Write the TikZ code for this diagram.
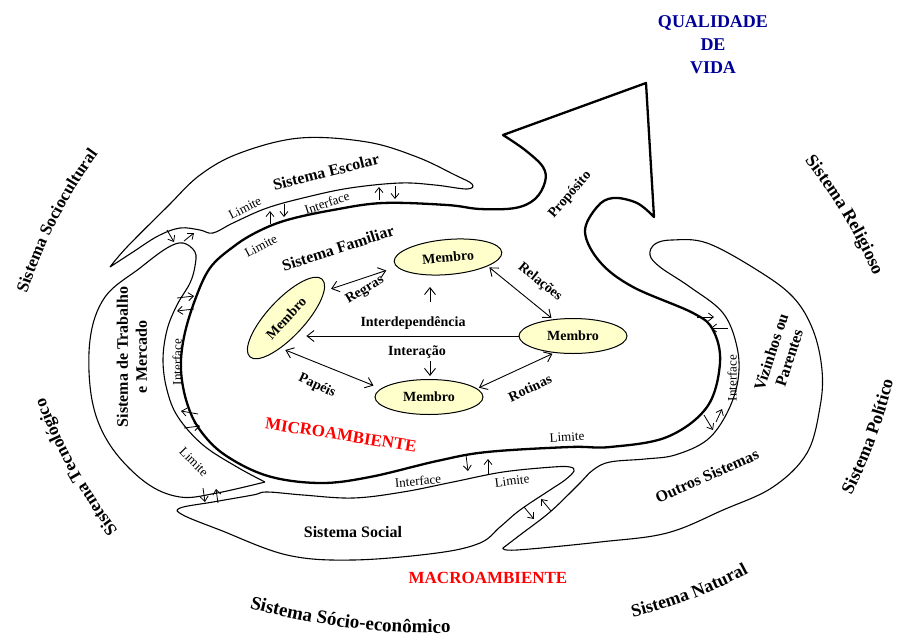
\documentclass[tikz,border=0pt]{standalone}
\usepackage{fontspec}
\setmainfont{Liberation Serif}
\usetikzlibrary{shapes.geometric}
\usetikzlibrary{arrows.meta}
\usetikzlibrary{decorations.text}
\definecolor{membrofill}{RGB}{255,255,204}
\definecolor{vidablue}{RGB}{0,0,153}
\newcommand{\externofont}{\fontsize{18}{20}\selectfont\bfseries}
\tikzset{
membro/.style={ % Sets the properties for each member
ellipse, draw, line width=1pt, fill=membrofill,
inner sep=0pt, minimum width=108pt, minimum height=35pt,
font=\fontsize{14}{16}\selectfont\bfseries},
rel/.style={ % arrows between the members
line width=0.9pt, >={Straight Barb[length=7pt,width=11pt]}},
iarrow/.style={ % small arrows across an interface
->, line width=0.8pt, >={Straight Barb[length=5pt,width=8pt]}},
fronteira/.style={line width=2.3pt, line join=round}, % microambiente limit
contorno/.style={line width=1.1pt}, % other systems
rotulo/.style={font=\fontsize{14}{16}\selectfont\bfseries},
sistema/.style={font=\fontsize{16}{19}\selectfont\bfseries, align=center},
limite/.style={font=\fontsize{13}{15}\selectfont},
ambiente/.style={font=\fontsize{17}{19}\selectfont\bfseries, text=red},
externo/.style={decorate, decoration={text along path, text align=center}}}

\begin{document}
\begin{tikzpicture}[x=1pt, y=-1pt]
\useasboundingbox (0,0) rectangle (898,641);

% microambiente limit and the arrow of purpose
\draw[fronteira] (646,83) -- (503,135) -- plot[smooth, tension=0.6] coordinates {(503,135) (525,150) (543,167) (545,182) (535,199) (515,208) (480,209) (447,205) (383,203) (333,210) (287,220) (257,232) (233,247) (210,268) (195,300) (184,337) (181,370) (187,403) (200,430) (225,455) (268,476) (320,483) (370,477) (437,461) (487,452) (570,447) (610,447) (667,437) (707,407) (720,363) (713,330) (693,313) (633,287) (600,262) (585,232) (597,207) (613,198) (637,203) (654,217)} -- cycle;

% surrounding systems
\draw[contorno] plot[smooth, tension=0.6] coordinates {(110,267) (127,247) (167,207) (200,175) (240,153) (300,138) (367,142) (417,157) (455,175) (472,184) (467,189) (435,185) (400,183) (350,188) (307,197) (267,208) (233,223) (213,233) (200,230) (180,228) (158,236) (133,252) (110,267)};
\draw[contorno] plot[smooth, tension=0.6] coordinates {(265,482) (237,467) (203,445) (178,417) (167,390) (163,360) (167,330) (177,305) (190,283) (195,266) (195,252) (183,243) (167,248) (140,268) (105,297) (90,340) (92,400) (110,445) (145,482) (180,497) (217,493) (265,482)};
\draw[contorno] plot[smooth cycle, tension=0.6] coordinates {(180,508) (213,502) (253,495) (267,492) (303,495) (353,498) (403,492) (453,482) (503,472) (553,467) (570,467) (574,471) (565,480) (550,490) (520,510) (500,527) (480,543) (437,553) (353,560) (287,555) (220,530) (183,515)};
\draw[contorno] plot[smooth, tension=0.6] coordinates {(503,548) (520,535) (550,512) (578,485) (593,470) (610,462) (645,459) (675,455) (707,440) (727,413) (738,380) (737,347) (723,313) (690,287) (660,267) (650,255) (655,244) (672,240) (707,243) (757,270) (793,297) (813,330) (822,370) (820,407) (807,453) (773,487) (723,510) (667,533) (600,542) (517,550) (503,548)};

% exchanges across the interfaces
\draw[iarrow] (270,224) -- (270,211);
\draw[iarrow] (284,204) -- (284,217);
\draw[iarrow] (379,200) -- (379,187);
\draw[iarrow] (395,186) -- (395,199);
\draw[iarrow] (167,230) -- (174,242);
\draw[iarrow] (184,241) -- (194,233);
\draw[iarrow] (177,298) -- (194,296);
\draw[iarrow] (194,309) -- (177,311);
\draw[iarrow] (198,414) -- (181,411);
\draw[iarrow] (184,428) -- (200,426);
\draw[iarrow] (203,488) -- (205,502);
\draw[iarrow] (218,503) -- (216,489);
\draw[iarrow] (466,455) -- (468,471);
\draw[iarrow] (488,474) -- (488,459);
\draw[iarrow] (524,507) -- (534,519);
\draw[iarrow] (551,511) -- (541,499);
\draw[iarrow] (697,317) -- (714,317);
\draw[iarrow] (728,328) -- (711,328);
\draw[iarrow] (704,415) -- (713,430);
\draw[iarrow] (716,422) -- (722,409);

% family members
\node[membro, rotate=5] (mT) at (448,257) {Membro};
\node[membro, rotate=47, minimum width=106pt, minimum height=37pt] (mL) at (286,318) {Membro};
\node[membro] (mR) at (573,336) {Membro};
\node[membro] (mB) at (429,397) {Membro};
\coordinate (idp) at (430,302);
\coordinate (itr) at (430,361);

\draw[rel, <->, shorten <=7pt, shorten >=11pt] (mL.-12) -- (mT.186);
\draw[rel, <->, shorten <=2pt, shorten >=2pt] (mT.-18) -- (mR.140);
\draw[rel, ->, shorten >=6pt] (mR.west) -- (mR.west -| mL.-88);
\draw[rel, <->, shorten <=5pt, shorten >=8pt] (mL.-147) -- (mB.170);
\draw[rel, <->, shorten <=2pt, shorten >=2pt] (mB.10) -- (mR.-138);
\draw[rel, ->, shorten >=12pt] (idp) -- (idp |- mT.south);
\draw[rel, ->, shorten >=3pt] (itr) -- (itr |- mB.north);

\node[rotulo, rotate=31] (regras) at (365,290) {Regras};
\node[rotulo, rotate=-39] (relacoes) at (540,282) {Relações};
\node[rotulo] (interdep) at (413,323) {Interdependência};
\node[rotulo] (interacao) at (417,352) {Interação};
\node[rotulo, rotate=-25] (papeis) at (317,386) {Papéis};
\node[rotulo, rotate=25] (rotinas) at (530,388) {Rotinas};

% system names
\node[sistema, rotate=14] (escolar) at (326,172) {Sistema Escolar};
\node[sistema, rotate=18] (familiar) at (338,248) {Sistema Familiar};
\node[sistema] (social) at (353,532) {Sistema Social};
\node[sistema, rotate=90] (trabalho) at (132,357) {Sistema de Trabalho\\e Mercado};
\node[sistema, rotate=72] (vizinhos) at (780,355) {Vizinhos ou\\Parentes};
\node[sistema, rotate=24] (outros) at (707,476) {Outros Sistemas};
\node[rotulo, rotate=49] (proposito) at (570,195) {Propósito};

% limits and interfaces
\node[limite, rotate=27] (lim1) at (245,208) {Limite};
\node[limite, rotate=18] (int1) at (327,203) {Interface};
\node[limite, rotate=28] (lim2) at (261,246) {Limite};
\node[limite, rotate=90] (int2) at (177,362) {Interface};
\node[limite, rotate=-45] (lim3) at (194,462) {Limite};
\node[limite, rotate=5] (int3) at (418,481) {Interface};
\node[limite, rotate=7] (lim4) at (512,481) {Limite};
\node[limite, rotate=3] (lim5) at (567,437) {Limite};
\node[limite, rotate=90] (int4) at (732,378) {Interface};

\node[ambiente, rotate=-9] (micro) at (341,435) {MICROAMBIENTE};
\node[ambiente] (macro) at (488,578) {MACROAMBIENTE};
\node[font=\fontsize{18}{23}\selectfont\bfseries, text=vidablue, align=center] (vida) at (713,45) {QUALIDADE\\DE\\VIDA};

% outer systems, each on its own arc
\path[externo, decoration={text={|\fontsize{17}{19}\selectfont\bfseries|Sistema Sociocultural}}] ([shift={(194:500)}]502.5,448) arc[start angle=194, end angle=220, radius=500];
\path[externo, decoration={text={|\externofont|Sistema Religioso}}] ([shift={(316:500)}]414.5,473.5) arc[start angle=316, end angle=342, radius=500];
\path[externo, decoration={text={|\fontsize{17.5}{19}\selectfont\bfseries|Sistema Tecnológico}}] ([shift={(138:500)}]513.5,224.5) arc[start angle=138, end angle=164, radius=500];
\path[externo, decoration={text={|\externofont|Sistema Político}}] ([shift={(33:500)}]406,268) arc[start angle=33, end angle=7, radius=500];
\path[externo, decoration={text={|\externofont|Sistema Natural}}] ([shift={(82:500)}]513,132) arc[start angle=82, end angle=56, radius=500];
\path[externo, decoration={text={|\fontsize{19}{21}\selectfont\bfseries|Sistema Sócio-econômico}}] ([shift={(109:700)}]434.4,-67) arc[start angle=109, end angle=85, radius=700];
\end{tikzpicture}
\end{document}
